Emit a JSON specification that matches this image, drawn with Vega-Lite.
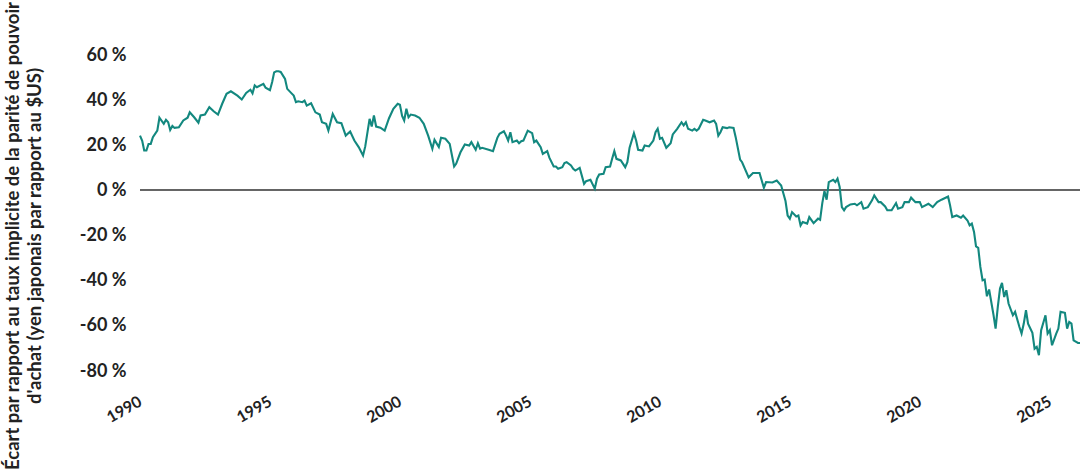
{
  "$schema": "https://vega.github.io/schema/vega-lite/v6.json",
  "description": "Écart par rapport au taux implicite de la parité de pouvoir d'achat, yen japonais par rapport au $US, 1990-2026.",
  "width": 940,
  "height": 316,
  "autosize": {"type": "none"},
  "padding": {"left": 140, "top": 55, "right": 0, "bottom": 100},
  "background": "white",
  "config": {
    "view": {"stroke": null},
    "font": "Lato"
  },
  "data": {
    "values": [
      {"date": "1990-01-01", "ecart": 24.3}, {"date": "1990-02-01", "ecart": 22}, {"date": "1990-03-01", "ecart": 17.7},
      {"date": "1990-04-01", "ecart": 17.7}, {"date": "1990-05-01", "ecart": 20.6}, {"date": "1990-06-01", "ecart": 20.6},
      {"date": "1990-07-01", "ecart": 23.6}, {"date": "1990-09-01", "ecart": 26.5}, {"date": "1990-10-01", "ecart": 32.2},
      {"date": "1990-12-01", "ecart": 29.5}, {"date": "1991-01-01", "ecart": 31.3}, {"date": "1991-02-01", "ecart": 30.2},
      {"date": "1991-03-01", "ecart": 26.8}, {"date": "1991-04-01", "ecart": 28.6}, {"date": "1991-05-01", "ecart": 27.7},
      {"date": "1991-07-01", "ecart": 28}, {"date": "1991-09-01", "ecart": 31}, {"date": "1991-11-01", "ecart": 32.2},
      {"date": "1991-12-01", "ecart": 34.6}, {"date": "1992-02-01", "ecart": 32.4}, {"date": "1992-04-01", "ecart": 30},
      {"date": "1992-05-01", "ecart": 33.2}, {"date": "1992-07-01", "ecart": 33.6}, {"date": "1992-09-01", "ecart": 36.9},
      {"date": "1992-11-01", "ecart": 35.1}, {"date": "1993-01-01", "ecart": 33.6}, {"date": "1993-03-01", "ecart": 38.4},
      {"date": "1993-05-01", "ecart": 42.8}, {"date": "1993-07-01", "ecart": 43.9}, {"date": "1993-10-01", "ecart": 42},
      {"date": "1993-12-01", "ecart": 40.3}, {"date": "1994-02-01", "ecart": 43.2}, {"date": "1994-04-01", "ecart": 44.6},
      {"date": "1994-05-01", "ecart": 43}, {"date": "1994-06-01", "ecart": 46.5}, {"date": "1994-07-01", "ecart": 45.7},
      {"date": "1994-10-01", "ecart": 47.2}, {"date": "1994-11-01", "ecart": 45.5}, {"date": "1995-01-01", "ecart": 44.4},
      {"date": "1995-02-01", "ecart": 48}, {"date": "1995-03-01", "ecart": 52.3}, {"date": "1995-04-01", "ecart": 52.8},
      {"date": "1995-05-01", "ecart": 52.8}, {"date": "1995-06-01", "ecart": 52.5}, {"date": "1995-08-01", "ecart": 49.4},
      {"date": "1995-09-01", "ecart": 45}, {"date": "1995-11-01", "ecart": 43}, {"date": "1995-12-01", "ecart": 42},
      {"date": "1996-01-01", "ecart": 39.1}, {"date": "1996-02-01", "ecart": 39.5}, {"date": "1996-04-01", "ecart": 39.1},
      {"date": "1996-05-01", "ecart": 39.8}, {"date": "1996-06-01", "ecart": 37.6}, {"date": "1996-08-01", "ecart": 38.6},
      {"date": "1996-10-01", "ecart": 34.6}, {"date": "1996-12-01", "ecart": 33.6}, {"date": "1997-01-01", "ecart": 30.2},
      {"date": "1997-03-01", "ecart": 29.5}, {"date": "1997-04-01", "ecart": 26.5}, {"date": "1997-06-01", "ecart": 33.9},
      {"date": "1997-08-01", "ecart": 30.2}, {"date": "1997-10-01", "ecart": 29.8}, {"date": "1997-12-01", "ecart": 24.3},
      {"date": "1998-02-01", "ecart": 26.1}, {"date": "1998-04-01", "ecart": 22.1}, {"date": "1998-06-01", "ecart": 19.2},
      {"date": "1998-08-01", "ecart": 15.5}, {"date": "1998-09-01", "ecart": 19.5}, {"date": "1998-11-01", "ecart": 31.7},
      {"date": "1998-12-01", "ecart": 28.3}, {"date": "1999-01-01", "ecart": 33.2}, {"date": "1999-02-01", "ecart": 28.3},
      {"date": "1999-04-01", "ecart": 27.8}, {"date": "1999-06-01", "ecart": 26.5}, {"date": "1999-08-01", "ecart": 32},
      {"date": "1999-10-01", "ecart": 36.2}, {"date": "1999-12-01", "ecart": 38.4}, {"date": "2000-01-01", "ecart": 38},
      {"date": "2000-02-01", "ecart": 33}, {"date": "2000-03-01", "ecart": 31}, {"date": "2000-04-01", "ecart": 36.2},
      {"date": "2000-05-01", "ecart": 32.4}, {"date": "2000-06-01", "ecart": 33.6}, {"date": "2000-08-01", "ecart": 33.2},
      {"date": "2000-10-01", "ecart": 32.2}, {"date": "2000-12-01", "ecart": 29.5}, {"date": "2001-02-01", "ecart": 24.3},
      {"date": "2001-04-01", "ecart": 18.4}, {"date": "2001-05-01", "ecart": 22.4}, {"date": "2001-07-01", "ecart": 19.2},
      {"date": "2001-08-01", "ecart": 23.3}, {"date": "2001-10-01", "ecart": 22.9}, {"date": "2001-12-01", "ecart": 20.6},
      {"date": "2002-02-01", "ecart": 10.6}, {"date": "2002-03-01", "ecart": 11.8}, {"date": "2002-05-01", "ecart": 16.9},
      {"date": "2002-07-01", "ecart": 20.4}, {"date": "2002-09-01", "ecart": 19.9}, {"date": "2002-10-01", "ecart": 21.4},
      {"date": "2002-12-01", "ecart": 18}, {"date": "2003-01-01", "ecart": 20.9}, {"date": "2003-02-01", "ecart": 18.5},
      {"date": "2003-03-01", "ecart": 18.9}, {"date": "2003-06-01", "ecart": 18}, {"date": "2003-08-01", "ecart": 17.4},
      {"date": "2003-10-01", "ecart": 23.3}, {"date": "2003-11-01", "ecart": 25.1}, {"date": "2004-01-01", "ecart": 26.2},
      {"date": "2004-02-01", "ecart": 24.3}, {"date": "2004-03-01", "ecart": 22.1}, {"date": "2004-04-01", "ecart": 25.8},
      {"date": "2004-05-01", "ecart": 21.4}, {"date": "2004-07-01", "ecart": 22.1}, {"date": "2004-08-01", "ecart": 20.9},
      {"date": "2004-09-01", "ecart": 21.8}, {"date": "2004-10-01", "ecart": 22.1}, {"date": "2004-12-01", "ecart": 26.5},
      {"date": "2005-02-01", "ecart": 25.4}, {"date": "2005-03-01", "ecart": 21.4}, {"date": "2005-04-01", "ecart": 22.1},
      {"date": "2005-06-01", "ecart": 19.2}, {"date": "2005-07-01", "ecart": 16.2}, {"date": "2005-09-01", "ecart": 17.4},
      {"date": "2005-10-01", "ecart": 14.5}, {"date": "2005-12-01", "ecart": 10.6}, {"date": "2006-01-01", "ecart": 10.6},
      {"date": "2006-02-01", "ecart": 9.6}, {"date": "2006-04-01", "ecart": 10.3}, {"date": "2006-05-01", "ecart": 12.1},
      {"date": "2006-06-01", "ecart": 12.5}, {"date": "2006-08-01", "ecart": 11.1}, {"date": "2006-09-01", "ecart": 9.6},
      {"date": "2006-10-01", "ecart": 8.8}, {"date": "2006-12-01", "ecart": 10}, {"date": "2007-02-01", "ecart": 2.9},
      {"date": "2007-03-01", "ecart": 4.1}, {"date": "2007-05-01", "ecart": 4.7}, {"date": "2007-07-01", "ecart": 0.8},
      {"date": "2007-08-01", "ecart": 5.2}, {"date": "2007-09-01", "ecart": 7.1}, {"date": "2007-11-01", "ecart": 7.4},
      {"date": "2007-12-01", "ecart": 10.3}, {"date": "2008-02-01", "ecart": 10.6}, {"date": "2008-03-01", "ecart": 14},
      {"date": "2008-04-01", "ecart": 17.4}, {"date": "2008-05-01", "ecart": 14}, {"date": "2008-07-01", "ecart": 13.3},
      {"date": "2008-09-01", "ecart": 10.3}, {"date": "2008-10-01", "ecart": 12.5}, {"date": "2008-11-01", "ecart": 18.9},
      {"date": "2009-01-01", "ecart": 25.4}, {"date": "2009-02-01", "ecart": 22.1}, {"date": "2009-03-01", "ecart": 18},
      {"date": "2009-05-01", "ecart": 17.7}, {"date": "2009-06-01", "ecart": 19.9}, {"date": "2009-08-01", "ecart": 19.5},
      {"date": "2009-10-01", "ecart": 22.1}, {"date": "2009-11-01", "ecart": 25.8}, {"date": "2009-12-01", "ecart": 27.3},
      {"date": "2010-01-01", "ecart": 22.9}, {"date": "2010-02-01", "ecart": 23.3}, {"date": "2010-04-01", "ecart": 18.9},
      {"date": "2010-06-01", "ecart": 20.9}, {"date": "2010-07-01", "ecart": 24.8}, {"date": "2010-09-01", "ecart": 27.3},
      {"date": "2010-11-01", "ecart": 30.2}, {"date": "2010-12-01", "ecart": 28.8}, {"date": "2011-01-01", "ecart": 30.2},
      {"date": "2011-02-01", "ecart": 27.3}, {"date": "2011-04-01", "ecart": 26.5}, {"date": "2011-05-01", "ecart": 27.3},
      {"date": "2011-06-01", "ecart": 26.5}, {"date": "2011-07-01", "ecart": 27.3}, {"date": "2011-09-01", "ecart": 31.3},
      {"date": "2011-10-01", "ecart": 31}, {"date": "2011-12-01", "ecart": 30.2}, {"date": "2012-02-01", "ecart": 31},
      {"date": "2012-03-01", "ecart": 29.5}, {"date": "2012-04-01", "ecart": 24.3}, {"date": "2012-05-01", "ecart": 25.8},
      {"date": "2012-06-01", "ecart": 28}, {"date": "2012-08-01", "ecart": 27.6}, {"date": "2012-09-01", "ecart": 28},
      {"date": "2012-11-01", "ecart": 27.7}, {"date": "2012-12-01", "ecart": 23.6}, {"date": "2013-02-01", "ecart": 13.7},
      {"date": "2013-03-01", "ecart": 12.5}, {"date": "2013-06-01", "ecart": 5.8}, {"date": "2013-08-01", "ecart": 7.7},
      {"date": "2013-11-01", "ecart": 7.7}, {"date": "2014-01-01", "ecart": 1.2}, {"date": "2014-02-01", "ecart": 3.7},
      {"date": "2014-05-01", "ecart": 3.5}, {"date": "2014-07-01", "ecart": 4.4}, {"date": "2014-09-01", "ecart": 2.2},
      {"date": "2014-11-01", "ecart": -4.7}, {"date": "2014-12-01", "ecart": -11.1}, {"date": "2015-01-01", "ecart": -12.5},
      {"date": "2015-02-01", "ecart": -9.6}, {"date": "2015-04-01", "ecart": -11.5}, {"date": "2015-05-01", "ecart": -11.1},
      {"date": "2015-06-01", "ecart": -15.5}, {"date": "2015-07-01", "ecart": -14}, {"date": "2015-09-01", "ecart": -14.7},
      {"date": "2015-10-01", "ecart": -11.8}, {"date": "2015-12-01", "ecart": -14.5}, {"date": "2016-02-01", "ecart": -12.5},
      {"date": "2016-03-01", "ecart": -13}, {"date": "2016-04-01", "ecart": -5.6}, {"date": "2016-05-01", "ecart": -0.3},
      {"date": "2016-06-01", "ecart": -4.1}, {"date": "2016-07-01", "ecart": 3.7}, {"date": "2016-09-01", "ecart": 4.7},
      {"date": "2016-10-01", "ecart": 3.7}, {"date": "2016-11-01", "ecart": 5.2}, {"date": "2016-12-01", "ecart": 1.5},
      {"date": "2017-01-01", "ecart": -7.4}, {"date": "2017-02-01", "ecart": -8.8}, {"date": "2017-03-01", "ecart": -7.4},
      {"date": "2017-05-01", "ecart": -6.2}, {"date": "2017-07-01", "ecart": -5.9}, {"date": "2017-08-01", "ecart": -6.6},
      {"date": "2017-10-01", "ecart": -5.2}, {"date": "2017-11-01", "ecart": -8.1}, {"date": "2018-01-01", "ecart": -7.4},
      {"date": "2018-03-01", "ecart": -4.4}, {"date": "2018-04-01", "ecart": -2.2}, {"date": "2018-06-01", "ecart": -5.2},
      {"date": "2018-07-01", "ecart": -5.2}, {"date": "2018-09-01", "ecart": -7.1}, {"date": "2018-10-01", "ecart": -8.8},
      {"date": "2018-12-01", "ecart": -8.8}, {"date": "2019-02-01", "ecart": -5.6}, {"date": "2019-03-01", "ecart": -8.1},
      {"date": "2019-05-01", "ecart": -7.4}, {"date": "2019-06-01", "ecart": -5.2}, {"date": "2019-08-01", "ecart": -5.2},
      {"date": "2019-09-01", "ecart": -3.2}, {"date": "2019-11-01", "ecart": -5.2}, {"date": "2020-01-01", "ecart": -5.2},
      {"date": "2020-02-01", "ecart": -7.4}, {"date": "2020-05-01", "ecart": -5.9}, {"date": "2020-07-01", "ecart": -7.4},
      {"date": "2020-09-01", "ecart": -5.2}, {"date": "2020-11-01", "ecart": -4.1}, {"date": "2021-02-01", "ecart": -2.7},
      {"date": "2021-03-01", "ecart": -6.6}, {"date": "2021-04-01", "ecart": -11.8}, {"date": "2021-06-01", "ecart": -11.1},
      {"date": "2021-08-01", "ecart": -12.1}, {"date": "2021-09-01", "ecart": -11.1}, {"date": "2021-11-01", "ecart": -13.3},
      {"date": "2021-12-01", "ecart": -15.5}, {"date": "2022-01-01", "ecart": -14.7}, {"date": "2022-02-01", "ecart": -18.4},
      {"date": "2022-03-01", "ecart": -24.8}, {"date": "2022-04-01", "ecart": -25.4}, {"date": "2022-05-01", "ecart": -33.9},
      {"date": "2022-06-01", "ecart": -39.8}, {"date": "2022-07-01", "ecart": -39.5}, {"date": "2022-08-01", "ecart": -46.9},
      {"date": "2022-09-01", "ecart": -43.9}, {"date": "2022-11-01", "ecart": -55}, {"date": "2022-12-01", "ecart": -61.2},
      {"date": "2023-01-01", "ecart": -51.6}, {"date": "2023-02-01", "ecart": -43.5}, {"date": "2023-03-01", "ecart": -41},
      {"date": "2023-04-01", "ecart": -47.2}, {"date": "2023-05-01", "ecart": -44.2}, {"date": "2023-06-01", "ecart": -50.1},
      {"date": "2023-08-01", "ecart": -55.3}, {"date": "2023-09-01", "ecart": -53.8}, {"date": "2023-11-01", "ecart": -60.5},
      {"date": "2023-12-01", "ecart": -63.4}, {"date": "2024-01-01", "ecart": -59}, {"date": "2024-02-01", "ecart": -53.1},
      {"date": "2024-03-01", "ecart": -59}, {"date": "2024-05-01", "ecart": -63.1}, {"date": "2024-06-01", "ecart": -70.1},
      {"date": "2024-07-01", "ecart": -69.3}, {"date": "2024-08-01", "ecart": -73}, {"date": "2024-09-01", "ecart": -61.9},
      {"date": "2024-11-01", "ecart": -55.3}, {"date": "2024-12-01", "ecart": -63.4}, {"date": "2025-01-01", "ecart": -61.9},
      {"date": "2025-02-01", "ecart": -68.6}, {"date": "2025-04-01", "ecart": -63.4}, {"date": "2025-05-01", "ecart": -61.2},
      {"date": "2025-06-01", "ecart": -53.8}, {"date": "2025-08-01", "ecart": -54.2}, {"date": "2025-09-01", "ecart": -61.2},
      {"date": "2025-10-01", "ecart": -58.3}, {"date": "2025-11-01", "ecart": -59}, {"date": "2025-12-01", "ecart": -66.4},
      {"date": "2026-02-01", "ecart": -67.6}, {"date": "2026-03-01", "ecart": -67.6}
    ]
  },
  "layer": [
    {
      "mark": {"type": "rule", "color": "#666666", "strokeWidth": 1.2},
      "encoding": {
        "y": {"datum": 0, "type": "quantitative"}
      }
    },
    {
      "mark": {"type": "line", "color": "#13887f", "strokeWidth": 2.1, "interpolate": "linear"},
      "encoding": {
        "x": {
          "field": "date",
          "type": "temporal",
          "scale": {"domain": ["1990-01-01", "2026-03-01"]},
          "axis": {
            "title": null,
            "values": ["1990-01-01", "1995-01-01", "2000-01-01", "2005-01-01", "2010-01-01", "2015-01-01", "2020-01-01", "2025-01-01"],
            "format": "%Y",
            "labelAngle": -30,
            "labelAlign": "right",
            "labelBaseline": "top",
            "labelPadding": 22,
            "labelOffset": -4,
            "labelFont": "Lato",
            "labelFontSize": 16,
            "labelFontWeight": "bold",
            "labelColor": "#222222",
            "labelFlush": false,
            "labelOverlap": false,
            "ticks": false,
            "domain": false,
            "grid": false
          }
        },
        "y": {
          "field": "ecart",
          "type": "quantitative",
          "scale": {"domain": [-80, 60], "nice": false, "zero": false},
          "axis": {
            "values": [-80, -60, -40, -20, 0, 20, 40, 60],
            "labelExpr": "datum.value + ' %'",
            "labelFont": "Lato",
            "labelFontSize": 18,
            "labelFontWeight": "bold",
            "labelColor": "#222222",
            "labelPadding": 14,
            "ticks": false,
            "domain": false,
            "grid": false,
            "title": ["Écart par rapport au taux implicite de la parité de pouvoir", "d'achat (yen japonais par rapport au $US)"],
            "titleFont": "Lato",
            "titleFontSize": 18.5,
            "titleFontWeight": "bold",
            "titleColor": "#222222",
            "titleLineHeight": 22,
            "titleAngle": -90,
            "titleAlign": "center",
            "titleBaseline": "top",
            "titleX": -137,
            "titleY": 180.5
          }
        }
      }
    }
  ]
}
